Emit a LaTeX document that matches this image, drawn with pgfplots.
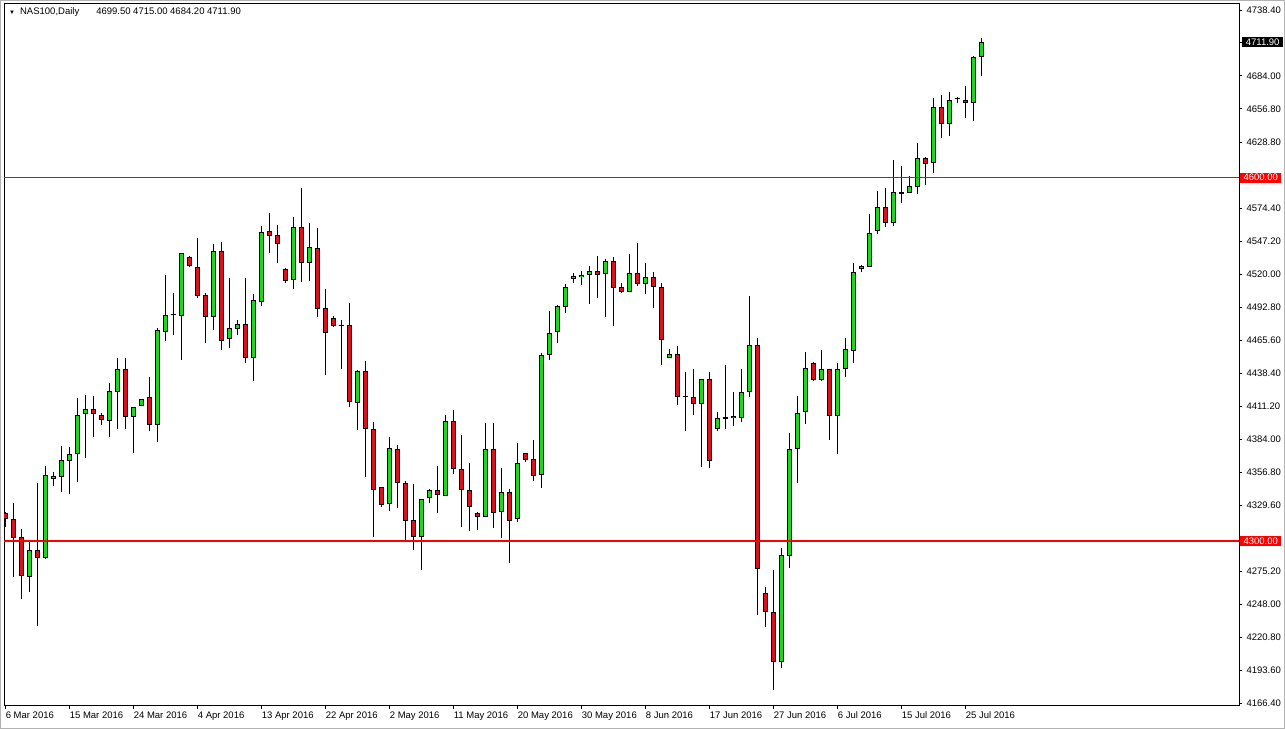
\documentclass[border=0pt]{standalone}
\usepackage{pgfplots}
\pgfplotsset{compat=1.18}
\usepackage{pgfplotstable}
\usepackage{fontspec}
\setmainfont{Liberation Sans}
\definecolor{bull}{HTML}{1ED81E}
\definecolor{bear}{HTML}{D8121E}
\definecolor{levelred}{HTML}{FF0000}

% daily OHLC, k = bar number from 6 Mar 2016
\pgfplotstableread{
k O H L C
0 4323.0 4324.0 4311.6 4318.0
1 4318.0 4331.7 4270.2 4302.8
2 4303.2 4309.8 4252.5 4271.5
3 4270.6 4299.5 4258.2 4292.7
4 4292.4 4348.2 4230.2 4285.8
5 4285.8 4362.0 4285.0 4354.6
6 4351.0 4357.3 4345.7 4353.8
7 4353.2 4378.5 4340.8 4367.0
8 4366.4 4377.7 4338.6 4371.9
9 4371.7 4418.1 4348.6 4404.1
10 4404.9 4420.6 4368.6 4409.0
11 4408.8 4420.0 4385.7 4404.7
12 4403.9 4405.8 4395.9 4399.7
13 4399.4 4430.3 4386.2 4423.6
14 4423.3 4450.9 4392.8 4441.8
15 4441.8 4450.9 4392.8 4402.7
16 4402.7 4411.0 4373.0 4410.5
17 4411.8 4417.5 4411.5 4417.1
18 4419.0 4435.7 4390.9 4396.1
19 4396.1 4475.7 4382.1 4474.3
20 4472.9 4519.7 4465.5 4486.7
21 4486.4 4504.6 4470.1 4486.8
22 4486.1 4538.0 4449.5 4537.6
23 4534.8 4535.5 4526.5 4527.1
24 4526.5 4550.0 4500.4 4502.6
25 4502.9 4504.6 4463.3 4485.2
26 4485.2 4545.2 4474.3 4539.2
27 4539.2 4546.9 4457.8 4465.5
28 4466.6 4516.9 4459.2 4475.7
29 4475.3 4482.5 4470.1 4479.2
30 4479.2 4516.9 4447.3 4450.9
31 4450.9 4503.7 4432.2 4499.0
32 4497.6 4560.1 4494.1 4555.4
33 4556.0 4570.6 4537.6 4552.1
34 4552.4 4560.9 4529.3 4545.0
35 4524.4 4525.0 4513.3 4515.0
36 4515.5 4567.3 4507.9 4559.0
37 4559.0 4591.2 4513.6 4529.3
38 4529.8 4562.3 4515.0 4542.5
39 4541.7 4558.2 4484.7 4491.9
40 4492.4 4507.9 4437.1 4471.5
41 4484.0 4485.8 4477.0 4477.6
42 4478.0 4482.5 4441.8 4477.6
43 4478.4 4496.3 4411.0 4415.1
44 4414.2 4441.0 4391.7 4440.7
45 4440.2 4448.6 4352.7 4392.3
46 4392.3 4398.3 4303.7 4342.0
47 4344.4 4345.0 4328.4 4329.8
48 4330.6 4385.7 4325.1 4376.6
49 4376.0 4379.1 4327.1 4347.7
50 4347.7 4349.9 4300.4 4316.9
51 4317.2 4347.2 4292.7 4303.2
52 4303.2 4335.0 4276.2 4334.5
53 4335.3 4343.3 4331.7 4342.0
54 4342.0 4362.0 4323.5 4337.8
55 4337.5 4403.9 4337.0 4399.2
56 4399.2 4408.2 4355.4 4359.3
57 4359.3 4387.6 4311.4 4342.2
58 4342.2 4364.7 4308.6 4328.4
59 4323.0 4324.3 4309.2 4320.2
60 4320.2 4397.3 4320.0 4375.8
61 4375.8 4397.3 4310.6 4323.0
62 4323.8 4360.6 4302.8 4340.3
63 4340.3 4342.8 4282.2 4316.9
64 4318.0 4381.2 4316.0 4364.2
65 4372.5 4373.0 4365.5 4367.0
66 4367.6 4383.5 4349.9 4354.0
67 4354.6 4455.5 4343.6 4453.6
68 4453.4 4490.0 4449.5 4471.5
69 4472.4 4495.0 4463.3 4494.1
70 4493.5 4512.2 4488.5 4509.5
71 4516.1 4521.0 4513.3 4518.8
72 4517.8 4522.7 4511.4 4519.7
73 4519.4 4527.1 4495.7 4522.7
74 4522.7 4535.3 4500.7 4519.9
75 4520.2 4532.6 4485.2 4531.2
76 4531.2 4534.3 4477.6 4508.7
77 4510.0 4512.8 4504.6 4505.9
78 4505.9 4537.0 4505.5 4521.0
79 4521.0 4545.8 4510.6 4512.0
80 4512.0 4529.8 4503.7 4517.8
81 4517.8 4522.1 4492.7 4510.0
82 4510.0 4512.8 4445.4 4466.0
83 4451.4 4458.6 4450.9 4454.2
84 4454.2 4461.1 4412.4 4419.2
85 4419.2 4439.8 4390.9 4418.8
86 4418.7 4441.8 4404.1 4413.0
87 4413.0 4434.0 4361.0 4433.6
88 4433.6 4439.8 4360.0 4366.4
89 4392.6 4406.8 4390.9 4401.4
90 4401.1 4445.4 4392.6 4402.7
91 4403.3 4423.3 4395.0 4401.4
92 4401.4 4442.1 4398.6 4422.8
93 4422.8 4502.3 4418.7 4461.9
94 4461.9 4467.4 4239.0 4276.8
95 4256.9 4262.4 4229.4 4241.8
96 4241.8 4276.2 4177.1 4200.0
97 4200.0 4294.6 4195.5 4288.6
98 4288.0 4389.0 4277.6 4375.8
99 4375.8 4419.8 4348.2 4405.5
100 4406.3 4455.9 4396.4 4442.6
101 4446.8 4448.0 4432.5 4433.0
102 4433.0 4457.8 4432.5 4441.8
103 4441.8 4442.0 4383.5 4403.5
104 4403.5 4446.8 4371.9 4441.8
105 4441.8 4467.4 4435.7 4458.3
106 4457.2 4529.3 4446.8 4522.4
107 4524.4 4527.5 4522.4 4527.1
108 4526.5 4569.8 4526.0 4554.6
109 4556.0 4589.2 4553.3 4575.5
110 4575.5 4591.2 4559.5 4562.3
111 4562.3 4614.6 4560.1 4587.9
112 4587.9 4609.6 4578.8 4586.3
113 4587.6 4601.4 4587.0 4593.1
114 4592.0 4628.4 4586.3 4616.0
115 4616.2 4617.0 4594.0 4611.0
116 4611.9 4665.5 4604.1 4658.6
117 4658.6 4668.2 4633.0 4644.0
118 4644.0 4670.7 4634.7 4663.9
119 4664.7 4666.8 4661.9 4665.5
120 4664.1 4675.7 4649.5 4661.4
121 4661.4 4700.4 4647.0 4699.3
122 4699.5 4715.0 4684.2 4711.9
}\candles

% support / resistance levels
\pgfplotstableread{
x y
-1 4600
160 4600
}\levelhi
\pgfplotstableread{
x y
-1 4300
160 4300
}\levello

\pgfplotsset{
  candle/.style={draw=none, mark=none,
    error bars/.cd, y dir=plus, y explicit, error mark=none,
    error bar style={#1}},
}

\begin{document}
\begin{tikzpicture}[font=\fontsize{9.5}{11}\selectfont]
\begin{axis}[
  name=ax,
  scale only axis,
  width=1235pt, height=702pt,
  xmin=-0.1625, xmax=154.2,
  ymin=4163.9, ymax=4743.35,
  axis line style={black, line width=1pt},
  tick align=outside,
  major tick length=3pt,
  tick style={black, line width=0.8pt},
  ytick pos=right, yticklabel pos=right,
  xtick pos=bottom,
  ytick={4738.4,4711.9,4684.0,4656.8,4628.8,4574.4,4547.2,4520.0,4492.8,4465.6,4438.4,4411.2,4384.0,4356.8,4329.6,4275.2,4248.0,4220.8,4193.6,4166.4},
  yticklabels={4738.40,,4684.00,4656.80,4628.80,4574.40,4547.20,4520.00,4492.80,4465.60,4438.40,4411.20,4384.00,4356.80,4329.60,4275.20,4248.00,4220.80,4193.60,4166.40},
  xtick={0,8,...,120},
  xticklabels={6 Mar 2016,15 Mar 2016,24 Mar 2016,4 Apr 2016,13 Apr 2016,22 Apr 2016,2 May 2016,11 May 2016,20 May 2016,30 May 2016,8 Jun 2016,17 Jun 2016,27 Jun 2016,6 Jul 2016,15 Jul 2016,25 Jul 2016},
  xticklabel style={anchor=north west, xshift=-3pt, yshift=1pt},
  yticklabel style={xshift=1pt},
]
% wicks
\addplot[candle={draw=black, line width=1pt}]
  table[x=k, y=L, y error expr=\thisrow{H}-\thisrow{L}] {\candles};
% body outlines
\addplot[candle={draw=black, line width=5pt}]
  table[x=k, y expr={min(\thisrow{O},\thisrow{C})},
        y error expr={max(abs(\thisrow{C}-\thisrow{O}),0.83)}] {\candles};
% up bodies
\addplot[candle={draw=bull, line width=3pt}]
  table[x=k, y expr={\thisrow{C}>\thisrow{O} ? \thisrow{O}+0.83 : 0},
        y error expr={\thisrow{C}>\thisrow{O} ? max(\thisrow{C}-\thisrow{O}-1.66,0) : 0}] {\candles};
% down bodies
\addplot[candle={draw=bear, line width=3pt}]
  table[x=k, y expr={\thisrow{C}<\thisrow{O} ? \thisrow{C}+0.83 : 0},
        y error expr={\thisrow{C}<\thisrow{O} ? max(\thisrow{O}-\thisrow{C}-1.66,0) : 0}] {\candles};
% horizontal levels
\addplot[color=levelred, no markers, line width=1.5pt] table[x=x, y=y] {\levelhi};
\addplot[color=levelred, no markers, line width=1.5pt] table[x=x, y=y] {\levello};
\coordinate (p1) at (axis cs:154.2,4711.9);
\coordinate (p2) at (axis cs:154.2,4600);
\coordinate (p3) at (axis cs:154.2,4300);
\coordinate (tl) at (axis cs:-0.1625,4743.35);
\end{axis}
\node[anchor=west, fill=black, text=white, inner sep=1pt, minimum width=41pt, minimum height=10pt] at ([xshift=3pt]p1) {4711.90};
\node[anchor=west, fill=levelred, text=white, inner sep=1pt, minimum width=41pt, minimum height=10pt] at ([xshift=1pt]p2) {4600.00};
\node[anchor=west, fill=levelred, text=white, inner sep=1pt, minimum width=41pt, minimum height=10pt] at ([xshift=1pt]p3) {4300.00};
\node[anchor=west, inner sep=0pt] at ([xshift=5pt, yshift=-8pt]tl)
  {{\fontsize{6}{6}\selectfont ▼}\hspace{5pt}NAS100,Daily\hspace{17pt}4699.50 4715.00 4684.20 4711.90};
\draw[gray!60, line width=0.8pt] ([xshift=-3.6pt,yshift=-22.6pt]ax.south west) rectangle ([xshift=45.6pt,yshift=3.6pt]ax.north east);
\path[use as bounding box] ([xshift=-4pt,yshift=-23pt]ax.south west) rectangle ([xshift=46pt,yshift=4pt]ax.north east);
\end{tikzpicture}
\end{document}
